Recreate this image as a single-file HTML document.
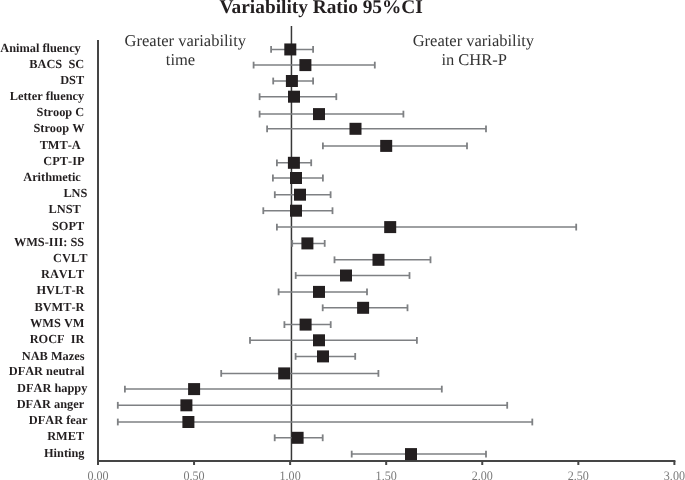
<!DOCTYPE html><html><head><meta charset="utf-8"><style>html,body{margin:0;padding:0;background:#fff;width:685px;height:480px;overflow:hidden}svg{position:absolute;left:0;top:0;display:block;will-change:transform}text{font-family:"Liberation Serif",serif;font-kerning:none;text-rendering:geometricPrecision}</style></head><body><svg width="685" height="480" viewBox="0 0 685 480"><g><text x="219.4" y="13.1" font-size="19.35" font-weight="bold" fill="#231f20" style="font-kerning:normal">Variability Ratio 95%CI</text><text x="124.6" y="46.0" font-size="16.5" fill="#333">Greater variability</text><text x="165.8" y="65.0" font-size="16.5" fill="#333">time</text><text x="412.7" y="46.0" font-size="16.5" fill="#333">Greater variability</text><text x="441.4" y="65.2" font-size="16.5" fill="#333">in CHR-P</text><line x1="291.45" y1="26" x2="291.45" y2="461" stroke="#383838" stroke-width="1.5"/><line x1="98" y1="40" x2="98" y2="465" stroke="#454545" stroke-width="2"/><line x1="97" y1="461" x2="675.4" y2="461" stroke="#454545" stroke-width="2"/><line x1="98.00" y1="461" x2="98.00" y2="465" stroke="#454545" stroke-width="2"/><text transform="translate(98.00,479.5) scale(0.93,1.0)" font-size="13.0" text-anchor="middle" fill="#7a7a7a">0.00</text><line x1="194.06" y1="461" x2="194.06" y2="465" stroke="#454545" stroke-width="2"/><text transform="translate(194.06,479.5) scale(0.93,1.0)" font-size="13.0" text-anchor="middle" fill="#7a7a7a">0.50</text><line x1="290.13" y1="461" x2="290.13" y2="465" stroke="#454545" stroke-width="2"/><text transform="translate(290.13,479.5) scale(0.93,1.0)" font-size="13.0" text-anchor="middle" fill="#7a7a7a">1.00</text><line x1="386.19" y1="461" x2="386.19" y2="465" stroke="#454545" stroke-width="2"/><text transform="translate(386.19,479.5) scale(0.93,1.0)" font-size="13.0" text-anchor="middle" fill="#7a7a7a">1.50</text><line x1="482.26" y1="461" x2="482.26" y2="465" stroke="#454545" stroke-width="2"/><text transform="translate(482.26,479.5) scale(0.93,1.0)" font-size="13.0" text-anchor="middle" fill="#7a7a7a">2.00</text><line x1="578.33" y1="461" x2="578.33" y2="465" stroke="#454545" stroke-width="2"/><text transform="translate(578.33,479.5) scale(0.93,1.0)" font-size="13.0" text-anchor="middle" fill="#7a7a7a">2.50</text><line x1="674.39" y1="461" x2="674.39" y2="465" stroke="#454545" stroke-width="2"/><text transform="translate(674.39,479.5) scale(0.93,1.0)" font-size="13.0" text-anchor="middle" fill="#7a7a7a">3.00</text><line x1="271.10" y1="49.45" x2="313.10" y2="49.45" stroke="#7e8083" stroke-width="1.5"/><line x1="271.10" y1="46.05" x2="271.10" y2="52.85" stroke="#7e8083" stroke-width="1.8"/><line x1="313.10" y1="46.05" x2="313.10" y2="52.85" stroke="#7e8083" stroke-width="1.8"/><rect x="284.30" y="43.45" width="12" height="12" fill="#231f20"/><text x="80.80" y="52" font-size="12.35" font-weight="bold" text-anchor="end" fill="#231f20" xml:space="preserve">Animal fluency</text><line x1="253.60" y1="65.10" x2="374.80" y2="65.10" stroke="#7e8083" stroke-width="1.5"/><line x1="253.60" y1="61.70" x2="253.60" y2="68.50" stroke="#7e8083" stroke-width="1.8"/><line x1="374.80" y1="61.70" x2="374.80" y2="68.50" stroke="#7e8083" stroke-width="1.8"/><rect x="299.40" y="59.10" width="12" height="12" fill="#231f20"/><text x="84.20" y="68" font-size="12.35" font-weight="bold" text-anchor="end" fill="#231f20" xml:space="preserve">BACS  SC</text><line x1="273.20" y1="81.00" x2="313.10" y2="81.00" stroke="#7e8083" stroke-width="1.5"/><line x1="273.20" y1="77.60" x2="273.20" y2="84.40" stroke="#7e8083" stroke-width="1.8"/><line x1="313.10" y1="77.60" x2="313.10" y2="84.40" stroke="#7e8083" stroke-width="1.8"/><rect x="285.90" y="75.00" width="12" height="12" fill="#231f20"/><text x="84.20" y="84" font-size="12.35" font-weight="bold" text-anchor="end" fill="#231f20" xml:space="preserve">DST</text><line x1="259.60" y1="96.70" x2="336.30" y2="96.70" stroke="#7e8083" stroke-width="1.5"/><line x1="259.60" y1="93.30" x2="259.60" y2="100.10" stroke="#7e8083" stroke-width="1.8"/><line x1="336.30" y1="93.30" x2="336.30" y2="100.10" stroke="#7e8083" stroke-width="1.8"/><rect x="288.00" y="90.70" width="12" height="12" fill="#231f20"/><text x="84.20" y="100" font-size="12.35" font-weight="bold" text-anchor="end" fill="#231f20" xml:space="preserve">Letter fluency</text><line x1="259.60" y1="114.10" x2="403.40" y2="114.10" stroke="#7e8083" stroke-width="1.5"/><line x1="259.60" y1="110.70" x2="259.60" y2="117.50" stroke="#7e8083" stroke-width="1.8"/><line x1="403.40" y1="110.70" x2="403.40" y2="117.50" stroke="#7e8083" stroke-width="1.8"/><rect x="313.00" y="108.10" width="12" height="12" fill="#231f20"/><text x="84.20" y="116" font-size="12.35" font-weight="bold" text-anchor="end" fill="#231f20" xml:space="preserve">Stroop C</text><line x1="267.10" y1="128.80" x2="486.00" y2="128.80" stroke="#7e8083" stroke-width="1.5"/><line x1="267.10" y1="125.40" x2="267.10" y2="132.20" stroke="#7e8083" stroke-width="1.8"/><line x1="486.00" y1="125.40" x2="486.00" y2="132.20" stroke="#7e8083" stroke-width="1.8"/><rect x="349.50" y="122.80" width="12" height="12" fill="#231f20"/><text x="84.50" y="132" font-size="12.35" font-weight="bold" text-anchor="end" fill="#231f20" xml:space="preserve">Stroop W</text><line x1="322.90" y1="145.90" x2="467.00" y2="145.90" stroke="#7e8083" stroke-width="1.5"/><line x1="322.90" y1="142.50" x2="322.90" y2="149.30" stroke="#7e8083" stroke-width="1.8"/><line x1="467.00" y1="142.50" x2="467.00" y2="149.30" stroke="#7e8083" stroke-width="1.8"/><rect x="380.20" y="139.90" width="12" height="12" fill="#231f20"/><text x="80.80" y="149" font-size="12.35" font-weight="bold" text-anchor="end" fill="#231f20" xml:space="preserve">TMT-A</text><line x1="276.90" y1="162.80" x2="311.20" y2="162.80" stroke="#7e8083" stroke-width="1.5"/><line x1="276.90" y1="159.40" x2="276.90" y2="166.20" stroke="#7e8083" stroke-width="1.8"/><line x1="311.20" y1="159.40" x2="311.20" y2="166.20" stroke="#7e8083" stroke-width="1.8"/><rect x="287.90" y="156.80" width="12" height="12" fill="#231f20"/><text x="84.50" y="165" font-size="12.35" font-weight="bold" text-anchor="end" fill="#231f20" xml:space="preserve">CPT-IP</text><line x1="272.90" y1="178.00" x2="322.90" y2="178.00" stroke="#7e8083" stroke-width="1.5"/><line x1="272.90" y1="174.60" x2="272.90" y2="181.40" stroke="#7e8083" stroke-width="1.8"/><line x1="322.90" y1="174.60" x2="322.90" y2="181.40" stroke="#7e8083" stroke-width="1.8"/><rect x="290.00" y="172.00" width="12" height="12" fill="#231f20"/><text x="80.80" y="181" font-size="12.35" font-weight="bold" text-anchor="end" fill="#231f20" xml:space="preserve">Arithmetic</text><line x1="274.80" y1="194.70" x2="330.60" y2="194.70" stroke="#7e8083" stroke-width="1.5"/><line x1="274.80" y1="191.30" x2="274.80" y2="198.10" stroke="#7e8083" stroke-width="1.8"/><line x1="330.60" y1="191.30" x2="330.60" y2="198.10" stroke="#7e8083" stroke-width="1.8"/><rect x="294.00" y="188.70" width="12" height="12" fill="#231f20"/><text x="87.40" y="197" font-size="12.35" font-weight="bold" text-anchor="end" fill="#231f20" xml:space="preserve">LNS</text><line x1="263.30" y1="210.70" x2="332.50" y2="210.70" stroke="#7e8083" stroke-width="1.5"/><line x1="263.30" y1="207.30" x2="263.30" y2="214.10" stroke="#7e8083" stroke-width="1.8"/><line x1="332.50" y1="207.30" x2="332.50" y2="214.10" stroke="#7e8083" stroke-width="1.8"/><rect x="290.00" y="204.70" width="12" height="12" fill="#231f20"/><text x="80.80" y="213" font-size="12.35" font-weight="bold" text-anchor="end" fill="#231f20" xml:space="preserve">LNST</text><line x1="276.90" y1="227.10" x2="576.20" y2="227.10" stroke="#7e8083" stroke-width="1.5"/><line x1="276.90" y1="223.70" x2="276.90" y2="230.50" stroke="#7e8083" stroke-width="1.8"/><line x1="576.20" y1="223.70" x2="576.20" y2="230.50" stroke="#7e8083" stroke-width="1.8"/><rect x="384.20" y="221.10" width="12" height="12" fill="#231f20"/><text x="84.20" y="230" font-size="12.35" font-weight="bold" text-anchor="end" fill="#231f20" xml:space="preserve">SOPT</text><line x1="292.20" y1="243.40" x2="324.70" y2="243.40" stroke="#7e8083" stroke-width="1.5"/><line x1="292.20" y1="240.00" x2="292.20" y2="246.80" stroke="#7e8083" stroke-width="1.8"/><line x1="324.70" y1="240.00" x2="324.70" y2="246.80" stroke="#7e8083" stroke-width="1.8"/><rect x="301.40" y="237.40" width="12" height="12" fill="#231f20"/><text x="84.20" y="246" font-size="12.35" font-weight="bold" text-anchor="end" fill="#231f20" xml:space="preserve">WMS-III: SS</text><line x1="334.50" y1="259.80" x2="430.50" y2="259.80" stroke="#7e8083" stroke-width="1.5"/><line x1="334.50" y1="256.40" x2="334.50" y2="263.20" stroke="#7e8083" stroke-width="1.8"/><line x1="430.50" y1="256.40" x2="430.50" y2="263.20" stroke="#7e8083" stroke-width="1.8"/><rect x="372.50" y="253.80" width="12" height="12" fill="#231f20"/><text x="87.40" y="262" font-size="12.35" font-weight="bold" text-anchor="end" fill="#231f20" xml:space="preserve">CVLT</text><line x1="295.70" y1="275.50" x2="409.50" y2="275.50" stroke="#7e8083" stroke-width="1.5"/><line x1="295.70" y1="272.10" x2="295.70" y2="278.90" stroke="#7e8083" stroke-width="1.8"/><line x1="409.50" y1="272.10" x2="409.50" y2="278.90" stroke="#7e8083" stroke-width="1.8"/><rect x="340.00" y="269.50" width="12" height="12" fill="#231f20"/><text x="84.20" y="278" font-size="12.35" font-weight="bold" text-anchor="end" fill="#231f20" xml:space="preserve">RAVLT</text><line x1="278.60" y1="291.90" x2="367.00" y2="291.90" stroke="#7e8083" stroke-width="1.5"/><line x1="278.60" y1="288.50" x2="278.60" y2="295.30" stroke="#7e8083" stroke-width="1.8"/><line x1="367.00" y1="288.50" x2="367.00" y2="295.30" stroke="#7e8083" stroke-width="1.8"/><rect x="313.00" y="285.90" width="12" height="12" fill="#231f20"/><text x="84.50" y="294" font-size="12.35" font-weight="bold" text-anchor="end" fill="#231f20" xml:space="preserve">HVLT-R</text><line x1="322.70" y1="307.80" x2="407.50" y2="307.80" stroke="#7e8083" stroke-width="1.5"/><line x1="322.70" y1="304.40" x2="322.70" y2="311.20" stroke="#7e8083" stroke-width="1.8"/><line x1="407.50" y1="304.40" x2="407.50" y2="311.20" stroke="#7e8083" stroke-width="1.8"/><rect x="357.10" y="301.80" width="12" height="12" fill="#231f20"/><text x="84.50" y="311" font-size="12.35" font-weight="bold" text-anchor="end" fill="#231f20" xml:space="preserve">BVMT-R</text><line x1="284.40" y1="324.60" x2="330.70" y2="324.60" stroke="#7e8083" stroke-width="1.5"/><line x1="284.40" y1="321.20" x2="284.40" y2="328.00" stroke="#7e8083" stroke-width="1.8"/><line x1="330.70" y1="321.20" x2="330.70" y2="328.00" stroke="#7e8083" stroke-width="1.8"/><rect x="299.60" y="318.60" width="12" height="12" fill="#231f20"/><text x="84.50" y="327" font-size="12.35" font-weight="bold" text-anchor="end" fill="#231f20" xml:space="preserve">WMS VM</text><line x1="250.00" y1="340.30" x2="416.90" y2="340.30" stroke="#7e8083" stroke-width="1.5"/><line x1="250.00" y1="336.90" x2="250.00" y2="343.70" stroke="#7e8083" stroke-width="1.8"/><line x1="416.90" y1="336.90" x2="416.90" y2="343.70" stroke="#7e8083" stroke-width="1.8"/><rect x="313.00" y="334.30" width="12" height="12" fill="#231f20"/><text x="84.50" y="343" font-size="12.35" font-weight="bold" text-anchor="end" fill="#231f20" xml:space="preserve">ROCF  IR</text><line x1="295.60" y1="356.40" x2="355.20" y2="356.40" stroke="#7e8083" stroke-width="1.5"/><line x1="295.60" y1="353.00" x2="295.60" y2="359.80" stroke="#7e8083" stroke-width="1.8"/><line x1="355.20" y1="353.00" x2="355.20" y2="359.80" stroke="#7e8083" stroke-width="1.8"/><rect x="317.00" y="350.40" width="12" height="12" fill="#231f20"/><text x="84.50" y="360" font-size="12.35" font-weight="bold" text-anchor="end" fill="#231f20" xml:space="preserve">NAB Mazes</text><line x1="221.20" y1="373.40" x2="378.40" y2="373.40" stroke="#7e8083" stroke-width="1.5"/><line x1="221.20" y1="370.00" x2="221.20" y2="376.80" stroke="#7e8083" stroke-width="1.8"/><line x1="378.40" y1="370.00" x2="378.40" y2="376.80" stroke="#7e8083" stroke-width="1.8"/><rect x="278.20" y="367.40" width="12" height="12" fill="#231f20"/><text x="84.50" y="375" font-size="12.35" font-weight="bold" text-anchor="end" fill="#231f20" xml:space="preserve">DFAR neutral</text><line x1="124.90" y1="389.10" x2="441.80" y2="389.10" stroke="#7e8083" stroke-width="1.5"/><line x1="124.90" y1="385.70" x2="124.90" y2="392.50" stroke="#7e8083" stroke-width="1.8"/><line x1="441.80" y1="385.70" x2="441.80" y2="392.50" stroke="#7e8083" stroke-width="1.8"/><rect x="188.10" y="383.10" width="12" height="12" fill="#231f20"/><text x="87.40" y="392" font-size="12.35" font-weight="bold" text-anchor="end" fill="#231f20" xml:space="preserve">DFAR happy</text><line x1="117.80" y1="405.30" x2="507.20" y2="405.30" stroke="#7e8083" stroke-width="1.5"/><line x1="117.80" y1="401.90" x2="117.80" y2="408.70" stroke="#7e8083" stroke-width="1.8"/><line x1="507.20" y1="401.90" x2="507.20" y2="408.70" stroke="#7e8083" stroke-width="1.8"/><rect x="180.40" y="399.30" width="12" height="12" fill="#231f20"/><text x="84.20" y="408" font-size="12.35" font-weight="bold" text-anchor="end" fill="#231f20" xml:space="preserve">DFAR anger</text><line x1="117.80" y1="422.00" x2="532.30" y2="422.00" stroke="#7e8083" stroke-width="1.5"/><line x1="117.80" y1="418.60" x2="117.80" y2="425.40" stroke="#7e8083" stroke-width="1.8"/><line x1="532.30" y1="418.60" x2="532.30" y2="425.40" stroke="#7e8083" stroke-width="1.8"/><rect x="182.40" y="416.00" width="12" height="12" fill="#231f20"/><text x="87.40" y="424" font-size="12.35" font-weight="bold" text-anchor="end" fill="#231f20" xml:space="preserve">DFAR fear</text><line x1="274.70" y1="437.80" x2="322.70" y2="437.80" stroke="#7e8083" stroke-width="1.5"/><line x1="274.70" y1="434.40" x2="274.70" y2="441.20" stroke="#7e8083" stroke-width="1.8"/><line x1="322.70" y1="434.40" x2="322.70" y2="441.20" stroke="#7e8083" stroke-width="1.8"/><rect x="291.60" y="431.80" width="12" height="12" fill="#231f20"/><text x="84.20" y="440" font-size="12.35" font-weight="bold" text-anchor="end" fill="#231f20" xml:space="preserve">RMET</text><line x1="351.70" y1="454.10" x2="486.00" y2="454.10" stroke="#7e8083" stroke-width="1.5"/><line x1="351.70" y1="450.70" x2="351.70" y2="457.50" stroke="#7e8083" stroke-width="1.8"/><line x1="486.00" y1="450.70" x2="486.00" y2="457.50" stroke="#7e8083" stroke-width="1.8"/><rect x="405.00" y="448.10" width="12" height="12" fill="#231f20"/><text x="84.50" y="457" font-size="12.35" font-weight="bold" text-anchor="end" fill="#231f20" xml:space="preserve">Hinting</text></g></svg></body></html>
